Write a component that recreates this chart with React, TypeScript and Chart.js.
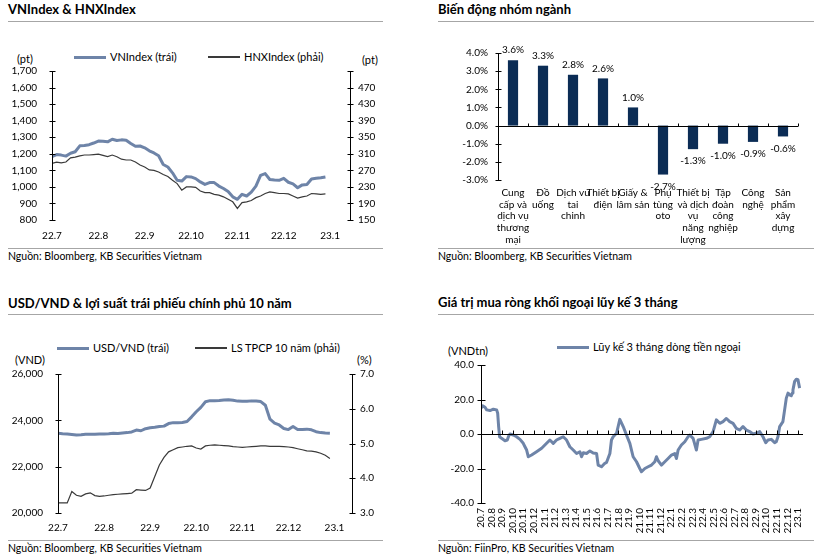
import React, { useEffect, useRef } from 'react';
import { Chart, registerables } from 'chart.js';

Chart.register(...registerables);

const FONT = 'Lato, "Open Sans", "DejaVu Sans", sans-serif';
const BLUE = '#6E84A8';
const DARK = '#3A3A3A';
const NAVY = '#0B2C55';

// ---------- Panel 1: VNIndex & HNXIndex ----------
const indexMonths = ['22.7', '22.8', '22.9', '22.10', '22.11', '22.12', '23.1'];
const indexStep = 0.1; // months between samples
const vnIndex = [
  1183, 1195, 1192, 1186, 1203, 1212, 1248, 1250, 1255, 1265,
  1277, 1276, 1272, 1288, 1280, 1284, 1282, 1262, 1245, 1247,
  1236, 1218, 1205, 1188, 1135, 1120, 1085, 1040, 1035, 1062,
  1060, 1050, 1030, 1015, 1026, 1026, 1005, 990, 972, 940,
  925, 955, 945, 968, 1005, 1070, 1080, 1045, 1042, 1040,
  1052, 1028, 1018, 995, 1012, 1015, 1048, 1052, 1055, 1060,
];
const hnxIndex = [
  287, 290, 288, 290, 300, 302, 305, 307, 307, 308,
  309, 306, 303, 307, 303, 297, 295, 295, 290, 283,
  278, 271, 270, 266, 260, 255, 246, 238, 222, 230,
  230, 229, 220, 216, 216, 212, 210, 206, 200, 194,
  178, 192, 194, 197, 204, 208, 214, 218, 216, 214,
  214, 213, 208, 203, 206, 208, 214, 213, 212, 213,
];

// ---------- Panel 2: sector moves ----------
const sectorLabels = [
  ['Cung', 'cấp và', 'dịch vụ', 'thương', 'mại'],
  ['Đồ', 'uống'],
  ['Dịch vu', 'tai', 'chinh'],
  ['Thiết bị', 'điện'],
  ['Giấy &', 'lâm sản'],
  ['Phụ', 'tùng', 'oto'],
  ['Thiết bị', 'và dịch', 'vụ', 'năng', 'lượng'],
  ['Tập', 'đoàn', 'công', 'nghiệp'],
  ['Công', 'nghệ'],
  ['Sản', 'phẩm', 'xây', 'dựng'],
];
const sectorChanges = [3.6, 3.3, 2.8, 2.6, 1.0, -2.7, -1.3, -1.0, -0.9, -0.6];

// ---------- Panel 3: USD/VND & 10Y bond yield ----------
const fxMonths = ['22.7', '22.8', '22.9', '22.10', '22.11', '22.12', '23.1'];
const fxStep = 0.1;
const usdVnd = [
  23440, 23420, 23410, 23390, 23370, 23380, 23400, 23400, 23400, 23410,
  23410, 23420, 23440, 23430, 23450, 23470, 23500, 23580, 23550, 23640,
  23680, 23700, 23730, 23750, 23860, 23900, 23900, 23910, 23950, 24150,
  24370, 24560, 24800, 24850, 24850, 24860, 24880, 24890, 24870, 24830,
  24820, 24820, 24840, 24830, 24810, 24650, 24050, 23880, 23800, 23650,
  23600, 23730, 23600, 23600, 23620, 23590, 23510, 23470, 23450, 23440,
];
const bondYield10y = [
  3.29, 3.29, 3.29, 3.62, 3.51, 3.48, 3.55, 3.58, 3.50, 3.48,
  3.49, 3.51, 3.53, 3.54, 3.55, 3.56, 3.57, 3.67, 3.66, 3.65,
  3.72, 4.05, 4.38, 4.60, 4.76, 4.82, 4.88, 4.90, 4.92, 4.93,
  4.87, 4.84, 4.93, 4.95, 4.96, 4.95, 4.94, 4.93, 4.91, 4.90,
  4.89, 4.90, 4.91, 4.92, 4.93, 4.93, 4.92, 4.92, 4.92, 4.91,
  4.90, 4.88, 4.85, 4.82, 4.79, 4.78, 4.76, 4.72, 4.66, 4.57,
];

// ---------- Panel 4: 3-month cumulative foreign net buying ----------
const flowMonths = [
  '20.7', '20.8', '20.9', '20.10', '20.11', '20.12', '21.1', '21.2', '21.3', '21.4', '21.5',
  '21.6', '21.7', '21.8', '21.9', '21.10', '21.11', '21.12', '22.1', '22.2', '22.3',
  '22.4', '22.5', '22.6', '22.7', '22.8', '22.9', '22.10', '22.11', '22.12', '23.1',
];
// [months since 20.7, VND tn]
const foreignFlow3m: [number, number][] = [
  [0.0, 15], [0.16, 16.3], [0.38, 15.5], [0.54, 14], [0.85, 13.6], [1.17, 14.4], [1.48, 14], [1.58, 12],
  [1.67, 4.3], [1.76, -1.6], [1.95, -2.5], [2.27, -3.9], [2.49, -3.5], [2.62, -1.2], [2.74, 0], [3.06, -0.6],
  [3.37, -1.6], [3.69, -3.1], [4.0, -5.4], [4.16, -7.4], [4.32, -9.3], [4.48, -13.2], [4.79, -12.2], [5.26, -10.3],
  [5.74, -8.3], [6.21, -5.4], [6.52, -3.5], [6.84, -5.4], [7.15, -3.5], [7.47, -2.5], [7.78, -1.6], [8.1, -3.5],
  [8.41, -7.4], [8.73, -9.3], [9.05, -11.3], [9.36, -10.3], [9.52, -13.2], [9.68, -10.9], [9.99, -11.3], [10.31, -9.8],
  [10.62, -11.0], [10.94, -11.3], [11.09, -18], [11.41, -19], [11.72, -17], [11.88, -16.5], [12.2, -11.3], [12.35, -3.5],
  [12.51, -1.6], [12.83, 0.4], [12.98, 4.3], [13.14, 8.5], [13.46, 4.3], [13.77, -0.6], [14.09, -5.4], [14.4, -13.2],
  [14.72, -16.1], [15.03, -20], [15.19, -21.9], [15.51, -20], [15.82, -19], [16.14, -18], [16.45, -16.1], [16.61, -13.2],
  [16.77, -15.5], [17.08, -18], [17.4, -16.1], [17.71, -14.2], [18.03, -12.2], [18.34, -11.3], [18.5, -14.2], [18.66, -9.3],
  [18.97, -6.4], [19.29, -4.5], [19.6, -1.6], [19.76, -0.6], [20.08, -2.5], [20.39, -9.3], [20.55, -3.5], [20.86, -3.1],
  [21.34, -2.5], [21.65, -1.6], [21.97, 1.4], [22.28, 8.2], [22.6, 6.2], [22.91, 7.2], [23.23, 9.0], [23.54, 7.2],
  [23.86, 6.2], [24.17, 3.3], [24.49, 2.3], [24.8, 4.3], [25.12, 2.3], [25.43, 1.4], [25.75, 0], [26.06, 0.4],
  [26.38, 1.4], [26.69, -1.6], [26.95, -5], [27.17, -3.5], [27.48, -3.1], [27.8, -5], [27.95, -4.5], [28.11, -1.6],
  [28.27, 4.3], [28.58, 7.2], [28.74, 14], [28.9, 20.8], [29.06, 23.7], [29.22, 22.7], [29.37, 22.2], [29.47, 23.7],
  [29.53, 25.6], [29.69, 30.5], [29.85, 31.8], [30.0, 31.5], [30.16, 26.6],
];

// ---------- plugins ----------
const axisMarks = {
  id: 'axisMarks',
  afterDatasetsDraw(chart: any, _a: any, opts: any) {
    const ctx = chart.ctx;
    const a = chart.chartArea;
    ctx.save();
    ctx.strokeStyle = '#000';
    ctx.lineWidth = 1;
    for (const ax of opts.axes || []) {
      const s = chart.scales[ax.id];
      if (ax.kind === 'y') {
        const x = Math.round(ax.side === 'left' ? a.left : a.right) + 0.5;
        ctx.beginPath();
        ctx.moveTo(x, a.top);
        ctx.lineTo(x, a.bottom);
        for (const t of s.ticks) {
          const y = Math.round(s.getPixelForValue(t.value)) + 0.5;
          ctx.moveTo(x - ax.len, y);
          ctx.lineTo(x + ax.len, y);
        }
        ctx.stroke();
      } else {
        const ys = chart.scales[ax.yId];
        const y = Math.round(ax.at === undefined ? a.bottom : ys.getPixelForValue(ax.at)) + 0.5;
        ctx.beginPath();
        ctx.moveTo(a.left, y);
        ctx.lineTo(a.right, y);
        const values: number[] = ax.boundaries
          ? Array.from({ length: s.ticks.length + 1 }, (_, i) => i - 0.5)
          : s.ticks.map((t: any) => t.value);
        for (const v of values) {
          const x = Math.round(s.getPixelForValue(v)) + 0.5;
          ctx.moveTo(x, y);
          ctx.lineTo(x, y - ax.len);
        }
        ctx.stroke();
      }
    }
    ctx.restore();
  },
};

const barValueLabels = {
  id: 'barValueLabels',
  afterDatasetsDraw(chart: any) {
    const ctx = chart.ctx;
    const meta = chart.getDatasetMeta(0);
    const data = chart.data.datasets[0].data as number[];
    ctx.save();
    ctx.font = `10px ${FONT}`;
    ctx.fillStyle = '#000';
    ctx.textAlign = 'center';
    ctx.textBaseline = 'middle';
    meta.data.forEach((bar: any, i: number) => {
      const v = data[i];
      const y = v >= 0 ? bar.y - 10 : bar.y + 12;
      ctx.fillText(`${v.toFixed(1)}%`, bar.x, y);
    });
    ctx.restore();
  },
};

const noPad = (s: any) => {
  s.paddingTop = 0; s.paddingBottom = 0; s.paddingLeft = 0; s.paddingRight = 0;
};
const fixW = (w: number) => (s: any) => { s.width = w; noPad(s); };
const fixH = (h: number) => (s: any) => { s.height = h; noPad(s); };
const monthTicks = (n: number) => (s: any) => {
  s.ticks = Array.from({ length: n }, (_, i) => ({ value: i }));
};
const tickFont = { family: FONT, size: 10 };

function ChartCanvas({ x, y, w, h, build }: { x: number; y: number; w: number; h: number; build: () => any }) {
  const ref = useRef<HTMLCanvasElement>(null);
  useEffect(() => {
    const chart = new Chart(ref.current as HTMLCanvasElement, build());
    return () => chart.destroy();
  }, []);
  return (
    <canvas
      ref={ref}
      width={w}
      height={h}
      style={{ position: 'absolute', left: x, top: y, width: w, height: h }}
    />
  );
}

// ---------- chart configs ----------
function indexConfig() {
  return {
    type: 'line',
    data: {
      datasets: [
        {
          label: 'VNIndex (trái)',
          data: vnIndex.map((v, i) => ({ x: i * indexStep, y: v })),
          borderColor: BLUE, borderWidth: 3, pointRadius: 0, yAxisID: 'yL', borderJoinStyle: 'round',
        },
        {
          label: 'HNXIndex (phải)',
          data: hnxIndex.map((v, i) => ({ x: i * indexStep, y: v })),
          borderColor: DARK, borderWidth: 1.2, pointRadius: 0, yAxisID: 'yR',
        },
      ],
    },
    options: {
      responsive: false, animation: false,
      layout: { padding: { top: 9, left: 0, right: 0, bottom: 0 } },
      plugins: {
        legend: { display: false }, tooltip: { enabled: false },
        axisMarks: {
          axes: [
            { kind: 'y', id: 'yL', side: 'left', len: 3 },
            { kind: 'y', id: 'yR', side: 'right', len: 3 },
            { kind: 'x', id: 'x', yId: 'yL', len: 4 },
          ],
        },
      },
      scales: {
        x: {
          type: 'linear', min: 0, max: 6.43,
          afterBuildTicks: monthTicks(indexMonths.length), afterFit: fixH(27),
          grid: { display: false, drawTicks: false }, border: { display: false },
          ticks: { font: tickFont, color: '#000', padding: 10, maxRotation: 0, autoSkip: false,
            callback: (v: any) => indexMonths[Math.round(Number(v))] ?? '' },
        },
        yL: {
          position: 'left', min: 800, max: 1700, afterFit: fixW(52),
          grid: { display: false, drawTicks: false }, border: { display: false },
          ticks: { stepSize: 100, font: tickFont, color: '#000', padding: 15,
            callback: (v: any) => Number(v).toLocaleString('en-US') },
        },
        yR: {
          position: 'right', min: 150, max: 510, afterFit: fixW(50),
          grid: { display: false, drawTicks: false }, border: { display: false },
          ticks: { stepSize: 40, font: tickFont, color: '#000', padding: 8,
            callback: (v: any) => (Number(v) === 510 ? '' : String(v)) },
        },
      },
    },
    plugins: [axisMarks],
  };
}

function sectorConfig() {
  return {
    type: 'bar',
    data: {
      labels: sectorLabels,
      datasets: [{
        data: sectorChanges, backgroundColor: NAVY, barPercentage: 0.34, categoryPercentage: 1,
      }],
    },
    options: {
      responsive: false, animation: false,
      layout: { padding: { top: 13, left: 0, right: 19, bottom: 0 } },
      plugins: {
        legend: { display: false }, tooltip: { enabled: false },
        axisMarks: {
          axes: [
            { kind: 'y', id: 'y', side: 'left', len: 3 },
            { kind: 'x', id: 'x', yId: 'y', at: 0, len: 3, boundaries: true },
          ],
        },
      },
      scales: {
        x: {
          afterFit: fixH(68),
          grid: { display: false, drawTicks: false }, border: { display: false },
          ticks: { font: { family: FONT, size: 10, lineHeight: 1.17 }, color: '#000', padding: 7, maxRotation: 0, autoSkip: false },
        },
        y: {
          min: -3, max: 4, afterFit: fixW(88),
          grid: { display: false, drawTicks: false }, border: { display: false },
          ticks: { stepSize: 1, font: tickFont, color: '#000', padding: 10,
            callback: (v: any) => `${Number(v).toFixed(1)}%` },
        },
      },
    },
    plugins: [axisMarks, barValueLabels],
  };
}

function fxConfig() {
  return {
    type: 'line',
    data: {
      datasets: [
        {
          label: 'USD/VND (trái)',
          data: usdVnd.map((v, i) => ({ x: i * fxStep, y: v })),
          borderColor: BLUE, borderWidth: 3, pointRadius: 0, yAxisID: 'yL', borderJoinStyle: 'round',
        },
        {
          label: 'LS TPCP 10 năm (phải)',
          data: bondYield10y.map((v, i) => ({ x: i * fxStep, y: v })),
          borderColor: DARK, borderWidth: 1.2, pointRadius: 0, yAxisID: 'yR',
        },
      ],
    },
    options: {
      responsive: false, animation: false,
      layout: { padding: { top: 9, left: 0, right: 0, bottom: 0 } },
      plugins: {
        legend: { display: false }, tooltip: { enabled: false },
        axisMarks: {
          axes: [
            { kind: 'y', id: 'yL', side: 'left', len: 3 },
            { kind: 'y', id: 'yR', side: 'right', len: 3 },
            { kind: 'x', id: 'x', yId: 'yL', len: 4 },
          ],
        },
      },
      scales: {
        x: {
          type: 'linear', min: 0, max: 6.38,
          afterBuildTicks: monthTicks(fxMonths.length), afterFit: fixH(27),
          grid: { display: false, drawTicks: false }, border: { display: false },
          ticks: { font: tickFont, color: '#000', padding: 9, maxRotation: 0, autoSkip: false,
            callback: (v: any) => fxMonths[Math.round(Number(v))] ?? '' },
        },
        yL: {
          position: 'left', min: 20000, max: 26000, afterFit: fixW(58),
          grid: { display: false, drawTicks: false }, border: { display: false },
          ticks: { stepSize: 2000, font: tickFont, color: '#000', padding: 15,
            callback: (v: any) => Number(v).toLocaleString('en-US') },
        },
        yR: {
          position: 'right', min: 3, max: 7, afterFit: fixW(48),
          grid: { display: false, drawTicks: false }, border: { display: false },
          ticks: { stepSize: 1, font: tickFont, color: '#000', padding: 8,
            callback: (v: any) => Number(v).toFixed(1) },
        },
      },
    },
    plugins: [axisMarks],
  };
}

function flowConfig() {
  return {
    type: 'line',
    data: {
      datasets: [{
        label: 'Lũy kế 3 tháng dòng tiền ngoại',
        data: foreignFlow3m.map(([m, v]) => ({ x: m, y: v })),
        borderColor: BLUE, borderWidth: 3, pointRadius: 0, borderJoinStyle: 'round',
      }],
    },
    options: {
      responsive: false, animation: false,
      layout: { padding: { top: 9, left: 0, right: 14, bottom: 0 } },
      plugins: {
        legend: { display: false }, tooltip: { enabled: false },
        axisMarks: {
          axes: [
            { kind: 'y', id: 'y', side: 'left', len: 4 },
            { kind: 'x', id: 'x', yId: 'y', at: 0, len: 4 },
          ],
        },
      },
      scales: {
        x: {
          type: 'linear', min: 0, max: 30.48,
          afterBuildTicks: monthTicks(flowMonths.length), afterFit: fixH(37),
          grid: { display: false, drawTicks: false }, border: { display: false },
          ticks: { font: tickFont, color: '#000', padding: 5, minRotation: 90, maxRotation: 90, autoSkip: false,
            callback: (v: any) => flowMonths[Math.round(Number(v))] ?? '' },
        },
        y: {
          min: -40, max: 40, afterFit: fixW(71),
          grid: { display: false, drawTicks: false }, border: { display: false },
          ticks: { stepSize: 20, font: tickFont, color: '#000', padding: 7,
            callback: (v: any) => Number(v).toFixed(1) },
        },
      },
    },
    plugins: [axisMarks],
  };
}

// ---------- HTML pieces ----------
const abs = (x: number, y: number, extra: any = {}) => ({ position: 'absolute' as const, left: x, top: y, ...extra });

function Title({ x, y, text }: { x: number; y: number; text: string }) {
  return (
    <div style={abs(x, y - 9, { font: `bold 13px ${FONT}`, lineHeight: '18px', whiteSpace: 'nowrap', color: '#000' })}>{text}</div>
  );
}
function Rule({ x1, x2, y }: { x1: number; x2: number; y: number }) {
  return <div style={abs(x1, y, { width: x2 - x1, height: 1, background: '#A6A6A6' })} />;
}
function Txt({ x, y, text, size = 10.5 }: { x: number; y: number; text: string; size?: number }) {
  return (
    <div style={abs(x, y - 7, { font: `${size}px ${FONT}`, lineHeight: '14px', whiteSpace: 'nowrap', color: '#000' })}>{text}</div>
  );
}
function LegendItem({ x, y, lineW, color, thick, text }: { x: number; y: number; lineW: number; color: string; thick: number; text: string }) {
  return (
    <>
      <div style={abs(x, y - thick / 2, { width: lineW, height: thick, background: color })} />
      <Txt x={x + lineW + 4} y={y} text={text} size={11} />
    </>
  );
}

export default function App() {
  return (
    <div style={{ position: 'absolute', left: 0, top: 0, width: 817, height: 557, background: '#fff', overflow: 'hidden' }}>
      {/* Panel 1 */}
      <Title x={8} y={9} text="VNIndex & HNXIndex" />
      <Rule x1={8} x2={383} y={21} />
      <LegendItem x={74} y={57} lineW={32} color={BLUE} thick={3} text="VNIndex (trái)" />
      <LegendItem x={208} y={57} lineW={32} color={DARK} thick={1.5} text="HNXIndex (phải)" />
      <Txt x={17} y={59} text="(pt)" size={11} />
      <Txt x={362} y={60} text="(pt)" size={11} />
      <ChartCanvas x={0} y={62} w={400} h={185} build={indexConfig} />
      <Rule x1={8} x2={383} y={248} />
      <Txt x={8} y={256} text="Nguồn: Bloomberg, KB Securities Vietnam" />

      {/* Panel 2 */}
      <Title x={438} y={9} text="Biến động nhóm ngành" />
      <Rule x1={438} x2={814} y={21} />
      <ChartCanvas x={410} y={40} w={407} h={208} build={sectorConfig} />
      <Rule x1={438} x2={814} y={248} />
      <Txt x={438} y={256} text="Nguồn: Bloomberg, KB Securities Vietnam" />

      {/* Panel 3 */}
      <Title x={8} y={303} text="USD/VND & lợi suất trái phiếu chính phủ 10 năm" />
      <Rule x1={8} x2={383} y={314} />
      <LegendItem x={57} y={348} lineW={32} color={BLUE} thick={3} text="USD/VND (trái)" />
      <LegendItem x={195} y={348} lineW={32} color={DARK} thick={1.5} text="LS TPCP 10 năm (phải)" />
      <Txt x={15} y={360} text="(VND)" size={11} />
      <Txt x={357} y={360} text="(%)" size={11} />
      <ChartCanvas x={0} y={365} w={400} h={175} build={fxConfig} />
      <Rule x1={8} x2={383} y={540} />
      <Txt x={8} y={548} text="Nguồn: Bloomberg, KB Securities Vietnam" />

      {/* Panel 4 */}
      <Title x={438} y={302} text="Giá trị mua ròng khối ngoại lũy kế 3 tháng" />
      <Rule x1={438} x2={814} y={314} />
      <LegendItem x={557} y={347} lineW={32} color={BLUE} thick={3} text="Lũy kế 3 tháng dòng tiền ngoại" />
      <Txt x={448} y={351} text="(VNDtn)" size={11} />
      <ChartCanvas x={410} y={356} w={407} h={184} build={flowConfig} />
      <Rule x1={438} x2={814} y={540} />
      <Txt x={438} y={548} text="Nguồn: FiinPro, KB Securities Vietnam" />
    </div>
  );
}
